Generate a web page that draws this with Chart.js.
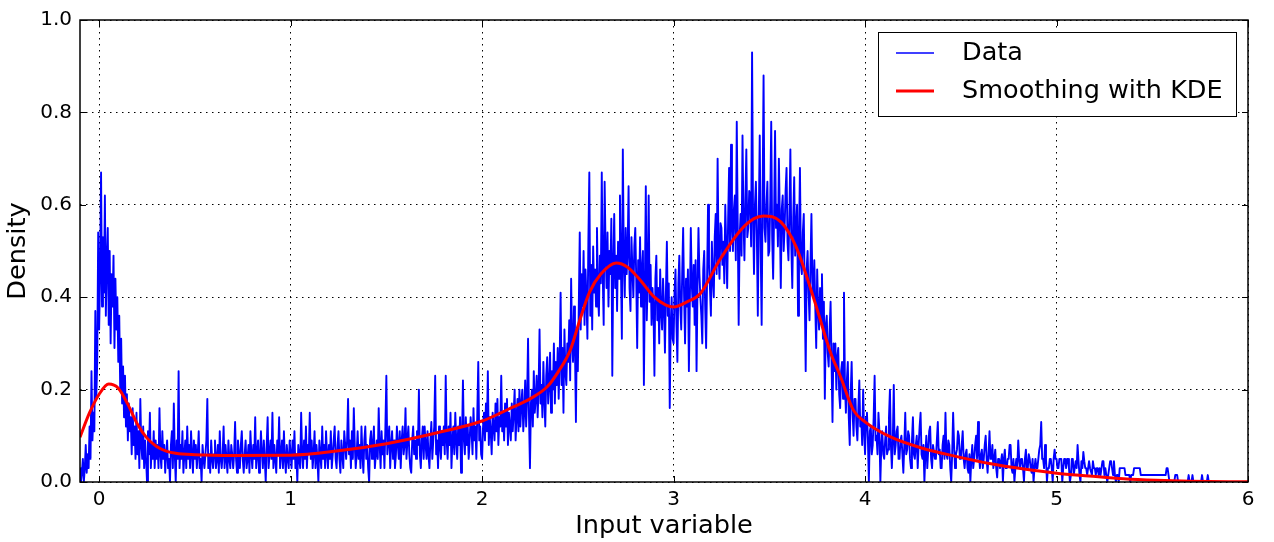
<!DOCTYPE html>
<html>
<head>
<meta charset="utf-8">
<script src="https://cdn.jsdelivr.net/npm/chart.js@4/dist/chart.umd.min.js"></script>
<style>
  html, body { margin: 0; padding: 0; background: #fff; }
  canvas { display: block; }
</style>
</head>
<body>
<canvas id="kdeChart" width="1274" height="542"></canvas>
<script>
// histogram bins: first bin centre, width of one row of bins, width of a bin
const binStart = -0.1;
const rowWidth = 0.1;
const binWidth = 0.005;

// density per bin; one row = 20 bins = 0.1 along x
const dataRows = [
  [0.03, 0.00, 0.02, 0.05, 0.00, 0.03, 0.08, 0.02, 0.06, 0.03, 0.12, 0.05, 0.24, 0.09, 0.15, 0.11, 0.37, 0.18, 0.26, 0.54],
  [0.33, 0.45, 0.67, 0.38, 0.53, 0.41, 0.62, 0.36, 0.48, 0.55, 0.34, 0.50, 0.30, 0.45, 0.38, 0.49, 0.29, 0.44, 0.33, 0.40],
  [0.26, 0.36, 0.20, 0.31, 0.17, 0.25, 0.14, 0.23, 0.12, 0.19, 0.09, 0.17, 0.11, 0.14, 0.06, 0.16, 0.08, 0.12, 0.05, 0.15],
  [0.06, 0.11, 0.03, 0.18, 0.08, 0.05, 0.12, 0.03, 0.09, 0.05, 0.00, 0.11, 0.06, 0.15, 0.03, 0.08, 0.05, 0.11, 0.03, 0.09],
  [0.05, 0.08, 0.03, 0.16, 0.06, 0.03, 0.11, 0.05, 0.08, 0.02, 0.06, 0.09, 0.03, 0.05, 0.00, 0.08, 0.11, 0.03, 0.17, 0.06],
  [0.00, 0.09, 0.05, 0.24, 0.03, 0.08, 0.05, 0.11, 0.02, 0.06, 0.09, 0.03, 0.12, 0.05, 0.08, 0.03, 0.11, 0.06, 0.02, 0.09],
  [0.05, 0.08, 0.03, 0.06, 0.11, 0.03, 0.05, 0.00, 0.08, 0.05, 0.03, 0.06, 0.09, 0.18, 0.03, 0.06, 0.02, 0.09, 0.05, 0.03],
  [0.06, 0.09, 0.03, 0.05, 0.08, 0.02, 0.11, 0.05, 0.03, 0.06, 0.12, 0.03, 0.08, 0.05, 0.02, 0.09, 0.05, 0.03, 0.08, 0.06],
  [0.03, 0.06, 0.13, 0.05, 0.02, 0.09, 0.06, 0.03, 0.08, 0.11, 0.05, 0.02, 0.06, 0.09, 0.03, 0.05, 0.08, 0.02, 0.11, 0.06],
  [0.03, 0.08, 0.05, 0.14, 0.03, 0.06, 0.09, 0.02, 0.05, 0.11, 0.06, 0.03, 0.09, 0.05, 0.00, 0.08, 0.14, 0.03, 0.06, 0.09],
  [0.05, 0.15, 0.03, 0.08, 0.05, 0.02, 0.09, 0.06, 0.14, 0.03, 0.06, 0.09, 0.03, 0.11, 0.05, 0.02, 0.08, 0.05, 0.03, 0.09],
  [0.06, 0.03, 0.09, 0.05, 0.11, 0.03, 0.06, 0.00, 0.08, 0.05, 0.03, 0.15, 0.06, 0.03, 0.09, 0.05, 0.12, 0.03, 0.08, 0.06],
  [0.15, 0.05, 0.09, 0.03, 0.06, 0.11, 0.03, 0.08, 0.05, 0.00, 0.09, 0.06, 0.03, 0.12, 0.05, 0.08, 0.03, 0.11, 0.06, 0.03],
  [0.08, 0.05, 0.11, 0.03, 0.06, 0.09, 0.12, 0.05, 0.03, 0.08, 0.11, 0.05, 0.02, 0.09, 0.06, 0.03, 0.11, 0.08, 0.05, 0.09],
  [0.18, 0.06, 0.09, 0.03, 0.11, 0.05, 0.16, 0.08, 0.03, 0.06, 0.11, 0.05, 0.08, 0.03, 0.12, 0.06, 0.02, 0.09, 0.12, 0.05],
  [0.08, 0.03, 0.00, 0.09, 0.11, 0.05, 0.08, 0.12, 0.03, 0.06, 0.09, 0.05, 0.16, 0.08, 0.03, 0.11, 0.06, 0.09, 0.03, 0.12],
  [0.23, 0.06, 0.09, 0.12, 0.03, 0.08, 0.11, 0.05, 0.09, 0.03, 0.06, 0.12, 0.08, 0.05, 0.11, 0.03, 0.09, 0.12, 0.06, 0.08],
  [0.16, 0.05, 0.09, 0.12, 0.06, 0.03, 0.02, 0.09, 0.12, 0.06, 0.09, 0.05, 0.11, 0.08, 0.20, 0.06, 0.03, 0.09, 0.12, 0.05],
  [0.12, 0.08, 0.05, 0.11, 0.06, 0.03, 0.09, 0.13, 0.05, 0.09, 0.12, 0.23, 0.06, 0.09, 0.03, 0.12, 0.08, 0.05, 0.11, 0.08],
  [0.12, 0.06, 0.23, 0.09, 0.05, 0.12, 0.08, 0.15, 0.03, 0.09, 0.12, 0.06, 0.15, 0.09, 0.05, 0.12, 0.08, 0.14, 0.02, 0.09],
  [0.22, 0.09, 0.06, 0.14, 0.08, 0.12, 0.05, 0.09, 0.14, 0.11, 0.06, 0.16, 0.09, 0.12, 0.05, 0.15, 0.26, 0.09, 0.12, 0.06],
  [0.05, 0.12, 0.15, 0.09, 0.17, 0.11, 0.24, 0.08, 0.14, 0.11, 0.06, 0.15, 0.12, 0.09, 0.17, 0.11, 0.18, 0.08, 0.14, 0.12],
  [0.23, 0.11, 0.15, 0.09, 0.17, 0.12, 0.18, 0.08, 0.15, 0.12, 0.09, 0.17, 0.11, 0.15, 0.20, 0.09, 0.14, 0.18, 0.11, 0.20],
  [0.12, 0.17, 0.20, 0.11, 0.15, 0.22, 0.12, 0.18, 0.31, 0.14, 0.03, 0.17, 0.20, 0.12, 0.24, 0.15, 0.18, 0.23, 0.14, 0.20],
  [0.33, 0.17, 0.21, 0.14, 0.26, 0.18, 0.12, 0.23, 0.27, 0.17, 0.21, 0.28, 0.15, 0.24, 0.20, 0.30, 0.17, 0.26, 0.21, 0.29],
  [0.18, 0.26, 0.41, 0.21, 0.29, 0.15, 0.33, 0.24, 0.21, 0.30, 0.26, 0.35, 0.22, 0.44, 0.30, 0.26, 0.38, 0.29, 0.13, 0.33],
  [0.24, 0.38, 0.54, 0.33, 0.45, 0.38, 0.50, 0.34, 0.46, 0.40, 0.31, 0.52, 0.67, 0.36, 0.47, 0.33, 0.51, 0.41, 0.46, 0.38],
  [0.55, 0.41, 0.36, 0.49, 0.43, 0.67, 0.45, 0.34, 0.65, 0.50, 0.42, 0.54, 0.38, 0.50, 0.45, 0.57, 0.23, 0.47, 0.58, 0.42],
  [0.49, 0.37, 0.52, 0.44, 0.62, 0.47, 0.31, 0.72, 0.48, 0.40, 0.55, 0.45, 0.50, 0.64, 0.42, 0.37, 0.53, 0.46, 0.40, 0.51],
  [0.55, 0.44, 0.29, 0.48, 0.41, 0.53, 0.38, 0.46, 0.50, 0.21, 0.42, 0.64, 0.35, 0.44, 0.62, 0.39, 0.47, 0.34, 0.42, 0.38],
  [0.23, 0.44, 0.49, 0.35, 0.42, 0.30, 0.46, 0.37, 0.33, 0.44, 0.38, 0.28, 0.41, 0.52, 0.36, 0.43, 0.16, 0.34, 0.40, 0.31],
  [0.30, 0.41, 0.46, 0.34, 0.26, 0.43, 0.49, 0.38, 0.33, 0.45, 0.55, 0.40, 0.30, 0.44, 0.38, 0.46, 0.24, 0.39, 0.55, 0.43],
  [0.38, 0.47, 0.34, 0.48, 0.24, 0.42, 0.55, 0.45, 0.40, 0.36, 0.30, 0.46, 0.50, 0.38, 0.29, 0.44, 0.60, 0.47, 0.42, 0.36],
  [0.52, 0.44, 0.40, 0.53, 0.58, 0.45, 0.70, 0.49, 0.44, 0.56, 0.55, 0.47, 0.52, 0.43, 0.60, 0.51, 0.42, 0.57, 0.68, 0.50],
  [0.73, 0.55, 0.50, 0.59, 0.62, 0.48, 0.78, 0.56, 0.34, 0.53, 0.58, 0.49, 0.75, 0.57, 0.48, 0.61, 0.72, 0.53, 0.55, 0.63],
  [0.62, 0.51, 0.93, 0.58, 0.45, 0.60, 0.65, 0.53, 0.36, 0.57, 0.75, 0.50, 0.34, 0.62, 0.88, 0.55, 0.52, 0.60, 0.65, 0.49],
  [0.50, 0.61, 0.78, 0.53, 0.44, 0.58, 0.76, 0.55, 0.60, 0.51, 0.70, 0.57, 0.42, 0.59, 0.62, 0.50, 0.55, 0.63, 0.68, 0.52],
  [0.48, 0.58, 0.72, 0.51, 0.42, 0.57, 0.66, 0.49, 0.55, 0.60, 0.36, 0.52, 0.68, 0.47, 0.45, 0.54, 0.58, 0.41, 0.24, 0.46],
  [0.50, 0.41, 0.35, 0.47, 0.58, 0.43, 0.40, 0.48, 0.38, 0.29, 0.46, 0.37, 0.33, 0.42, 0.35, 0.45, 0.31, 0.39, 0.18, 0.34],
  [0.36, 0.28, 0.25, 0.33, 0.39, 0.26, 0.13, 0.30, 0.24, 0.30, 0.20, 0.27, 0.29, 0.19, 0.16, 0.24, 0.26, 0.18, 0.41, 0.21],
  [0.15, 0.22, 0.26, 0.14, 0.08, 0.19, 0.26, 0.15, 0.10, 0.18, 0.18, 0.12, 0.09, 0.16, 0.22, 0.12, 0.14, 0.08, 0.20, 0.11],
  [0.06, 0.14, 0.15, 0.09, 0.00, 0.11, 0.12, 0.06, 0.08, 0.14, 0.23, 0.09, 0.10, 0.06, 0.15, 0.11, 0.00, 0.08, 0.11, 0.06],
  [0.05, 0.09, 0.12, 0.06, 0.07, 0.14, 0.20, 0.08, 0.03, 0.09, 0.21, 0.06, 0.08, 0.11, 0.12, 0.05, 0.05, 0.09, 0.10, 0.06],
  [0.02, 0.08, 0.15, 0.06, 0.07, 0.11, 0.10, 0.05, 0.03, 0.09, 0.14, 0.06, 0.05, 0.08, 0.10, 0.03, 0.08, 0.12, 0.15, 0.06],
  [0.05, 0.08, 0.00, 0.06, 0.10, 0.03, 0.07, 0.11, 0.12, 0.05, 0.03, 0.08, 0.08, 0.05, 0.05, 0.09, 0.13, 0.06, 0.07, 0.03],
  [0.03, 0.08, 0.10, 0.05, 0.15, 0.06, 0.05, 0.09, 0.08, 0.03, 0.00, 0.06, 0.15, 0.08, 0.03, 0.06, 0.07, 0.11, 0.10, 0.05],
  [0.05, 0.08, 0.11, 0.05, 0.03, 0.06, 0.07, 0.03, 0.02, 0.06, 0.00, 0.05, 0.08, 0.03, 0.05, 0.08, 0.10, 0.05, 0.13, 0.06],
  [0.03, 0.06, 0.07, 0.03, 0.05, 0.08, 0.10, 0.05, 0.02, 0.06, 0.11, 0.05, 0.05, 0.08, 0.03, 0.05, 0.07, 0.03, 0.01, 0.05],
  [0.05, 0.03, 0.03, 0.06, 0.00, 0.05, 0.07, 0.03, 0.03, 0.05, 0.05, 0.08, 0.08, 0.03, 0.02, 0.05, 0.00, 0.03, 0.05, 0.03],
  [0.09, 0.05, 0.03, 0.05, 0.05, 0.03, 0.00, 0.05, 0.07, 0.03, 0.03, 0.06, 0.05, 0.03, 0.02, 0.05, 0.00, 0.03, 0.05, 0.03],
  [0.03, 0.05, 0.07, 0.08, 0.13, 0.05, 0.05, 0.03, 0.08, 0.05, 0.00, 0.03, 0.03, 0.05, 0.05, 0.03, 0.00, 0.05, 0.07, 0.05],
  [0.05, 0.03, 0.03, 0.05, 0.05, 0.05, 0.00, 0.03, 0.05, 0.05, 0.03, 0.05, 0.05, 0.03, 0.00, 0.015, 0.05, 0.05, 0.015, 0.03],
  [0.045, 0.03, 0.08, 0.045, 0.015, 0.00, 0.045, 0.03, 0.065, 0.045, 0.03, 0.03, 0.015, 0.03, 0.045, 0.03, 0.03, 0.015, 0.045, 0.03],
  [0.03, 0.015, 0.03, 0.03, 0.015, 0.03, 0.015, 0.03, 0.045, 0.045, 0.015, 0.03, 0.015, 0.00, 0.015, 0.03, 0.045, 0.045, 0.03, 0.015],
  [0.045, 0.015, 0.00, 0.015, 0.015, 0.00, 0.03, 0.03, 0.03, 0.03, 0.03, 0.03, 0.015, 0.015, 0.015, 0.015, 0.015, 0.00, 0.015, 0.015],
  [0.015, 0.03, 0.03, 0.03, 0.03, 0.03, 0.03, 0.03, 0.015, 0.015, 0.015, 0.015, 0.015, 0.015, 0.015, 0.015, 0.015, 0.015, 0.015, 0.015],
  [0.015, 0.015, 0.015, 0.015, 0.015, 0.015, 0.015, 0.015, 0.015, 0.015, 0.015, 0.015, 0.015, 0.015, 0.015, 0.03, 0.03, 0.015, 0.00, 0.00],
  [0.00, 0.00, 0.00, 0.00, 0.015, 0.015, 0.015, 0.00, 0.00, 0.00, 0.00, 0.00, 0.00, 0.00, 0.00, 0.00, 0.00, 0.00, 0.015, 0.00],
  [0.00, 0.00, 0.015, 0.00, 0.00, 0.00, 0.00, 0.00, 0.00, 0.00, 0.00, 0.00, 0.015, 0.00, 0.00, 0.00, 0.00, 0.00, 0.015, 0.00],
  [0.00]
];

// kde curve
const kdeX = [-0.10, -0.05, 0.00, 0.05, 0.10, 0.15, 0.20, 0.25, 0.30, 0.35, 0.40, 0.50, 0.70, 1.00,
  1.24, 1.50, 1.76, 2.00, 2.10, 2.16, 2.25, 2.34, 2.40, 2.46, 2.51, 2.56, 2.62, 2.70, 2.76,
  2.82, 2.90, 2.96, 3.00, 3.07, 3.14, 3.24, 3.35, 3.42, 3.47, 3.56, 3.64, 3.73, 3.82, 3.87,
  3.94, 4.00, 4.13, 4.30, 4.48, 4.65, 4.83, 5.00, 5.17, 5.35, 5.52, 5.70, 6.00];
const kdeY = [0.097, 0.15, 0.19, 0.212, 0.203, 0.168, 0.125, 0.095, 0.077, 0.067, 0.062, 0.059, 0.0575, 0.058,
  0.067, 0.083, 0.106, 0.132, 0.15, 0.162, 0.18, 0.206, 0.24, 0.285, 0.35, 0.41, 0.45, 0.474, 0.465,
  0.44, 0.40, 0.383, 0.379, 0.39, 0.408, 0.48, 0.545, 0.57, 0.576, 0.563, 0.509, 0.40, 0.28, 0.23,
  0.155, 0.13, 0.098, 0.073, 0.055, 0.04, 0.028, 0.019, 0.013, 0.007, 0.0036, 0.0015, 0.0003];

const xTicks = [0, 1, 2, 3, 4, 5, 6];
const yTicks = [0, 0.2, 0.4, 0.6, 0.8, 1.0];

const fontFamily = "'DejaVu Sans', sans-serif";

const dataPoints = [];
dataRows.forEach((row, r) => {
    row.forEach((v, j) => {
        dataPoints.push({x: +(binStart + r * rowWidth + j * binWidth).toFixed(3), y: v});
    });
});
const kdePoints = kdeX.map((v, i) => ({x: v, y: kdeY[i]}));

// box round the plot, with inward ticks on all four sides
const frameTicks = {
    id: 'frameTicks',
    afterDatasetsDraw(chart) {
        const {ctx, chartArea: a, scales} = chart;
        ctx.save();
        ctx.strokeStyle = '#000';
        ctx.lineWidth = 1;
        ctx.beginPath();
        xTicks.forEach((v) => {
            const px = Math.round(scales.x.getPixelForValue(v)) + 0.5;
            ctx.moveTo(px, a.bottom); ctx.lineTo(px, a.bottom - 6);
            ctx.moveTo(px, a.top); ctx.lineTo(px, a.top + 6);
        });
        yTicks.forEach((v) => {
            const py = Math.round(scales.y.getPixelForValue(v)) + 0.5;
            ctx.moveTo(a.left, py); ctx.lineTo(a.left + 6, py);
            ctx.moveTo(a.right, py); ctx.lineTo(a.right - 6, py);
        });
        ctx.stroke();
        ctx.lineWidth = 1.5;
        ctx.strokeRect(a.left, a.top, a.right - a.left, a.bottom - a.top);
        ctx.restore();
    }
};

// matplotlib style legend box in the upper right
const boxLegend = {
    id: 'boxLegend',
    afterDraw(chart) {
        const {ctx} = chart;
        const x0 = 878, y0 = 32, w = 358, h = 84;
        ctx.save();
        ctx.fillStyle = '#fff';
        ctx.fillRect(x0, y0, w, h);
        ctx.strokeStyle = '#000';
        ctx.lineWidth = 1;
        ctx.strokeRect(x0 + 0.5, y0 + 0.5, w, h);
        ctx.font = '25.5px ' + fontFamily;
        ctx.textBaseline = 'middle';
        chart.data.datasets.forEach((ds, i) => {
            const cy = y0 + 21 + i * 38;
            ctx.strokeStyle = ds.borderColor;
            ctx.lineWidth = i === 0 ? 1.5 : ds.borderWidth;
            ctx.beginPath();
            ctx.moveTo(x0 + 18, cy);
            ctx.lineTo(x0 + 56, cy);
            ctx.stroke();
            ctx.fillStyle = '#000';
            ctx.fillText(ds.label, x0 + 84, cy);
        });
        ctx.restore();
    }
};

const kdeChart = new Chart(document.getElementById('kdeChart'), {
    type: 'line',
    data: {
        datasets: [{
            label: 'Data',
            data: dataPoints,
            borderColor: '#0000ff',
            borderWidth: 1.9,
            borderJoinStyle: 'round',
            pointRadius: 0,
            tension: 0,
            order: 2
        },
        {
            label: 'Smoothing with KDE',
            data: kdePoints,
            borderColor: '#ff0000',
            borderWidth: 3,
            pointRadius: 0,
            cubicInterpolationMode: 'monotone',
            order: 1
        }]
    },
    options: {
        responsive: false,
        animation: false,
        devicePixelRatio: 1,
        layout: {padding: {top: 18, right: 26, left: 0, bottom: 0}},
        plugins: {
            legend: {display: false},
            tooltip: {enabled: false}
        },
        scales: {
            x: {
                type: 'linear',
                min: -0.1,
                max: 6,
                afterBuildTicks: (scale) => { scale.ticks = xTicks.map((v) => ({value: v})); },
                afterFit: (scale) => { scale.height = 60; },
                grid: {color: '#000', lineWidth: 1, drawTicks: false},
                border: {display: false, dash: [1.5, 4.5]},
                ticks: {
                    color: '#000',
                    font: {family: fontFamily, size: 20},
                    padding: 6,
                    maxRotation: 0,
                    callback: (v) => String(v)
                },
                title: {
                    display: true,
                    text: 'Input variable',
                    color: '#000',
                    font: {family: fontFamily, size: 25.6},
                    padding: {top: 0, bottom: 0}
                }
            },
            y: {
                type: 'linear',
                min: 0,
                max: 1,
                afterBuildTicks: (scale) => { scale.ticks = yTicks.map((v) => ({value: v})); },
                afterFit: (scale) => { scale.width = 80; },
                grid: {color: '#000', lineWidth: 1, drawTicks: false},
                border: {display: false, dash: [1.5, 4.5]},
                ticks: {
                    color: '#000',
                    font: {family: fontFamily, size: 20},
                    padding: 8,
                    callback: (v) => v.toFixed(1)
                },
                title: {
                    display: true,
                    text: 'Density',
                    color: '#000',
                    font: {family: fontFamily, size: 25.6},
                    padding: {top: 3, bottom: 0}
                }
            }
        }
    },
    plugins: [frameTicks, boxLegend]
});
</script>
</body>
</html>
